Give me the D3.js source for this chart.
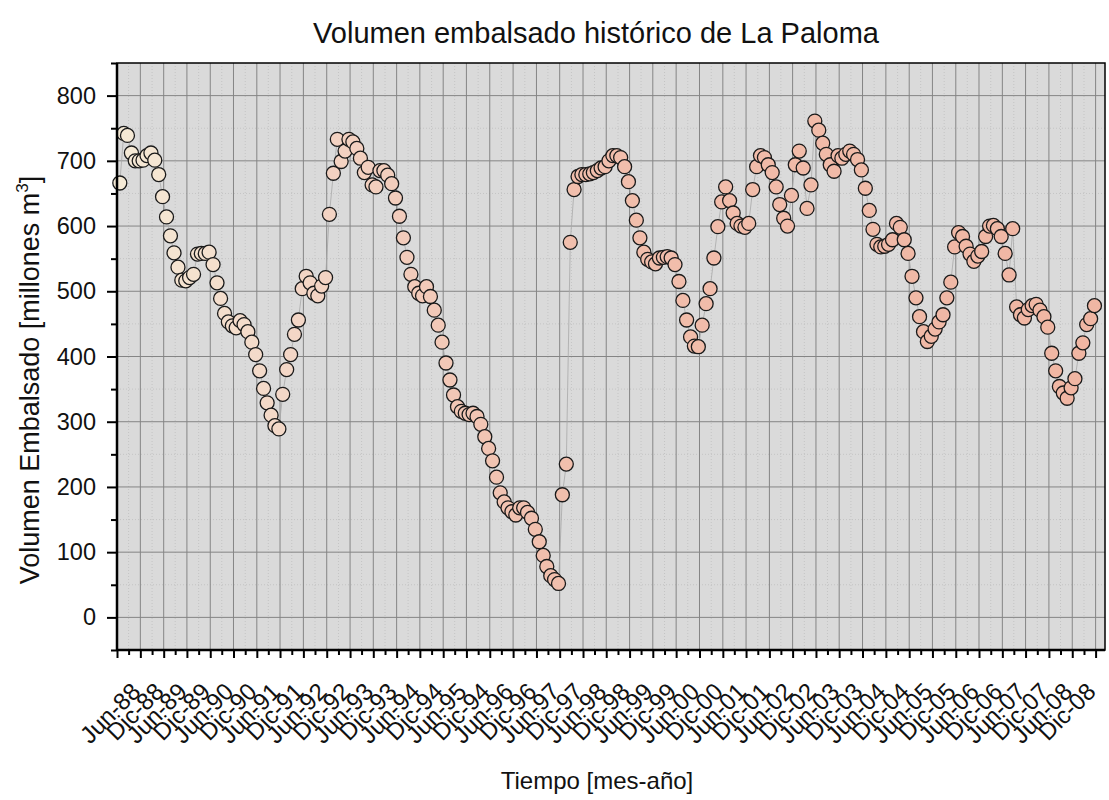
<!DOCTYPE html>
<html>
<head>
<meta charset="utf-8">
<script src="https://cdn.jsdelivr.net/npm/d3@7"></script>
<style>
  body { margin: 0; background: #fff; }
  text { font-family: "Liberation Sans", Arial, sans-serif; fill: #111; }
</style>
</head>
<body>
<svg id="chart" width="1109" height="800"></svg>
<script>
// tick labels, one per half year (the "Dic-94" after Jun-95 is as in the original)
const tickLabels = [
  "Jun-88", "Dic-88", "Jun-89", "Dic-89", "Jun-90", "Dic-90", "Jun-91", "Dic-91",
  "Jun-92", "Dic-92", "Jun-93", "Dic-93", "Jun-94", "Dic-94", "Jun-95", "Dic-94",
  "Jun-96", "Dic-96", "Jun-97", "Dic-97", "Jun-98", "Dic-98", "Jun-99", "Dic-99",
  "Jun-00", "Dic-00", "Jun-01", "Dic-01", "Jun-02", "Dic-02", "Jun-03", "Dic-03",
  "Jun-04", "Dic-04", "Jun-05", "Dic-05", "Jun-06", "Dic-06", "Jun-07", "Dic-07",
  "Jun-08", "Dic-08"
];

// monthly stored volume, millions m3, from Jan-1988 to Dec-2008
const volumen = [
  666, 742, 739, 712, 700, 700, 701, 708, 712, 701,
  679, 645, 614, 585, 559, 537, 517, 516, 521, 526,
  557, 558, 558, 560, 541, 513, 489, 466, 453, 447,
  444, 455, 449, 438, 422, 403, 378, 351, 329, 310,
  294, 289, 342, 380, 403, 434, 456, 504, 523, 513,
  497, 493, 508, 521, 618, 681, 733, 699, 715, 733,
  729, 719, 704, 682, 690, 663, 660, 685, 685, 678,
  665, 643, 615, 582, 552, 526, 507, 497, 493, 507,
  492, 471, 448, 422, 390, 364, 341, 323, 316, 313,
  311, 313, 308, 296, 277, 259, 240, 215, 191, 177,
  168, 162, 157, 168, 168, 161, 152, 135, 116, 95,
  78, 64, 58, 52, 188, 235, 575, 656, 676, 679,
  679, 680, 682, 685, 689, 691, 700, 708, 708, 705,
  691, 668, 639, 609, 582, 560, 549, 545, 542, 551,
  552, 553, 551, 541, 515, 486, 456, 430, 416, 415,
  448, 481, 504, 551, 599, 637, 660, 639, 620, 604,
  600, 598, 604, 656, 691, 708, 705, 694, 682, 660,
  633, 612, 600, 647, 694, 715, 689, 627, 663, 761,
  747, 727, 710, 694, 684, 708, 704, 710, 715, 710,
  702, 686, 658, 624, 595, 572, 568, 569, 572, 579,
  604, 598, 579, 558, 523, 490, 461, 438, 423, 431,
  442, 453, 464, 490, 514, 568, 590, 584, 569, 557,
  546, 554, 561, 584, 600, 601, 596, 584, 558, 525,
  596, 476, 464, 459, 472, 478, 480, 471, 461, 445,
  405, 378, 354, 344, 336, 352, 366, 405, 421, 449,
  458, 478
];

const yMajor = d3.range(0, 801, 100);
const yMinor = d3.range(-50, 851, 50).filter(v => v % 100 !== 0);

const svg = d3.select("#chart");
const plot = { left: 117, right: 1105, top: 63, bottom: 650 };

const data = volumen.map((v, i) => ({ date: d3.timeMonth.offset(new Date(1988, 0, 1), i), v: v, i: i }));

const t0 = new Date(1987, 11, 10);
const x = d3.scaleTime()
  .domain([t0, d3.timeMonth.offset(t0, 252)])
  .range([plot.left, 1095.6]);
const y = d3.scaleLinear().domain([-50, 850]).range([plot.bottom, plot.top]);

const majors = d3.range(0, 43).map(k => d3.timeMonth.offset(t0, 6 * k));
const minors = d3.range(0, 42).map(k => d3.timeMonth.offset(t0, 6 * k + 3));

// plot background
svg.append("rect")
  .attr("x", plot.left).attr("y", plot.top)
  .attr("width", plot.right - plot.left).attr("height", plot.bottom - plot.top)
  .attr("fill", "#dadada");

// grid
const grid = svg.append("g").attr("stroke-width", 1);
grid.selectAll("line.minx")
  .data(minors)
  .join("line")
  .attr("x1", d => x(d)).attr("x2", d => x(d))
  .attr("y1", plot.top).attr("y2", plot.bottom)
  .attr("stroke", "#c4c4c4").attr("stroke-dasharray", "1,2");
grid.selectAll("line.miny")
  .data(yMinor.filter(v => v > -50 && v < 850))
  .join("line")
  .attr("x1", plot.left).attr("x2", plot.right)
  .attr("y1", d => y(d)).attr("y2", d => y(d))
  .attr("stroke", "#c4c4c4").attr("stroke-dasharray", "1,2");
grid.append("g").selectAll("line")
  .data(majors)
  .join("line")
  .attr("x1", d => x(d)).attr("x2", d => x(d))
  .attr("y1", plot.top).attr("y2", plot.bottom)
  .attr("stroke", "#858585");
grid.append("g").selectAll("line")
  .data(yMajor)
  .join("line")
  .attr("x1", plot.left).attr("x2", plot.right)
  .attr("y1", d => y(d)).attr("y2", d => y(d))
  .attr("stroke", "#858585");

// thin connecting line behind the markers
const line = d3.line().x(d => x(d.date)).y(d => y(d.v));
svg.append("path")
  .datum(data)
  .attr("d", line)
  .attr("fill", "none")
  .attr("stroke", "#a8a8a8")
  .attr("stroke-width", 0.8);

// markers: pale cream on the left turning to salmon
const fill = d3.scaleLinear()
  .domain([0, 45, 110, 251])
  .range(["#f5ead6", "#f3d6c6", "#f1bfad", "#f0b6a3"]);

svg.append("g").selectAll("circle")
  .data(data)
  .join("circle")
  .attr("cx", d => x(d.date))
  .attr("cy", d => y(d.v))
  .attr("r", 7)
  .attr("fill", d => fill(d.i))
  .attr("stroke", "#1a1a1a")
  .attr("stroke-width", 1.3);

// y axis
const yAxis = svg.append("g")
  .attr("transform", `translate(${plot.left},0)`)
  .call(d3.axisLeft(y).tickValues(yMajor).tickSize(10).tickPadding(11));
yAxis.selectAll("text").attr("font-size", 23.5).attr("fill", "#111");
svg.append("g")
  .attr("transform", `translate(${plot.left},0)`)
  .call(d3.axisLeft(y).tickValues(yMinor).tickSize(6).tickFormat(""));

// x axis
svg.append("g")
  .attr("transform", `translate(0,${plot.bottom})`)
  .call(d3.axisBottom(x).tickValues(majors).tickSize(8).tickFormat(""));
svg.append("g")
  .attr("transform", `translate(0,${plot.bottom})`)
  .call(d3.axisBottom(x).tickValues(minors).tickSize(5).tickFormat(""));

svg.selectAll(".domain").remove();
svg.selectAll(".tick line").attr("stroke", "#000").attr("stroke-width", 2);

// frame
svg.append("rect")
  .attr("x", plot.left).attr("y", plot.top)
  .attr("width", plot.right - plot.left).attr("height", plot.bottom - plot.top)
  .attr("fill", "none").attr("stroke", "#000").attr("stroke-width", 1.5);
svg.append("line")
  .attr("x1", plot.left).attr("x2", plot.left)
  .attr("y1", plot.top).attr("y2", plot.bottom)
  .attr("stroke", "#000").attr("stroke-width", 2.5);
svg.append("line")
  .attr("x1", plot.left).attr("x2", plot.right)
  .attr("y1", plot.bottom).attr("y2", plot.bottom)
  .attr("stroke", "#000").attr("stroke-width", 2.5);

// rotated x tick labels, one at each half-year tick after the first
svg.append("g").selectAll("text")
  .data(tickLabels)
  .join("text")
  .attr("transform", (d, k) => `translate(${x(majors[k + 1]) + 1.5},693) rotate(-45)`)
  .attr("text-anchor", "end")
  .attr("font-size", 24)
  .text(d => d);

// titles
svg.append("text")
  .attr("x", 596).attr("y", 43)
  .attr("text-anchor", "middle")
  .attr("font-size", 29)
  .text("Volumen embalsado histórico de La Paloma");

svg.append("text")
  .attr("x", 597).attr("y", 789)
  .attr("text-anchor", "middle")
  .attr("font-size", 24)
  .text("Tiempo [mes-año]");

const yt = svg.append("text")
  .attr("transform", `translate(39,380) rotate(-90)`)
  .attr("text-anchor", "middle")
  .attr("font-size", 27);
yt.append("tspan").text("Volumen Embalsado [millones m");
yt.append("tspan").attr("font-size", 17).attr("dy", -11).text("3");
yt.append("tspan").attr("dy", 11).text("]");
</script>
</body>
</html>
